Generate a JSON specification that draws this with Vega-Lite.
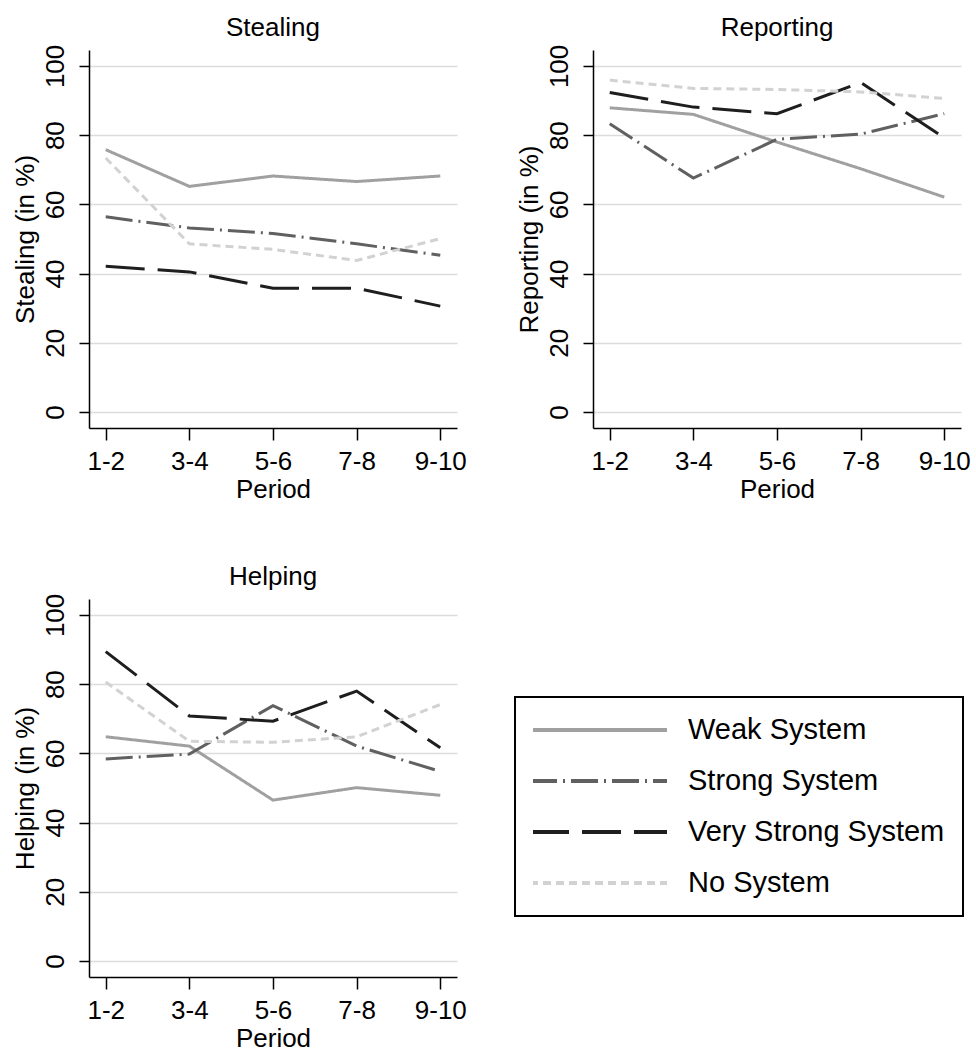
{
  "$schema": "https://vega.github.io/schema/vega-lite/v6.json",
  "background": "white",
  "padding": {"left": 12, "top": 15, "right": 0, "bottom": 0},
  "autosize": {"type": "pad"},
  "config": {
    "font": "Liberation Sans",
    "view": {"stroke": null},
    "title": {"fontSize": 26, "fontWeight": "normal", "color": "black", "anchor": "middle", "offset": 3},
    "axis": {
      "domainColor": "black", "domainWidth": 1.5,
      "tickColor": "black", "tickWidth": 1.5,
      "labelColor": "black", "titleColor": "black",
      "labelFontSize": 26, "titleFontSize": 26,
      "labelFontWeight": "normal", "titleFontWeight": "normal",
      "gridColor": "#dcdcdc", "gridWidth": 1.5
    },
    "axisX": {"grid": false, "labelAngle": 0, "tickSize": 12, "labelPadding": 8, "titlePadding": 2, "labelFontSize": 26},
    "axisY": {"grid": true, "tickSize": 10, "labelAngle": -90, "labelAlign": "center", "labelBaseline": "bottom", "labelPadding": 11, "titlePadding": 4}
  },
  "data": {"values": [
    {"measure": "Stealing", "system": "Weak System", "period": "1-2", "value": 75.8},
    {"measure": "Stealing", "system": "Weak System", "period": "3-4", "value": 65.2},
    {"measure": "Stealing", "system": "Weak System", "period": "5-6", "value": 68.2},
    {"measure": "Stealing", "system": "Weak System", "period": "7-8", "value": 66.6},
    {"measure": "Stealing", "system": "Weak System", "period": "9-10", "value": 68.2},
    {"measure": "Stealing", "system": "Strong System", "period": "1-2", "value": 56.4},
    {"measure": "Stealing", "system": "Strong System", "period": "3-4", "value": 53.2},
    {"measure": "Stealing", "system": "Strong System", "period": "5-6", "value": 51.6},
    {"measure": "Stealing", "system": "Strong System", "period": "7-8", "value": 48.6},
    {"measure": "Stealing", "system": "Strong System", "period": "9-10", "value": 45.3},
    {"measure": "Stealing", "system": "Very Strong System", "period": "1-2", "value": 42.1},
    {"measure": "Stealing", "system": "Very Strong System", "period": "3-4", "value": 40.5},
    {"measure": "Stealing", "system": "Very Strong System", "period": "5-6", "value": 35.8},
    {"measure": "Stealing", "system": "Very Strong System", "period": "7-8", "value": 35.8},
    {"measure": "Stealing", "system": "Very Strong System", "period": "9-10", "value": 30.6},
    {"measure": "Stealing", "system": "No System", "period": "1-2", "value": 73.4},
    {"measure": "Stealing", "system": "No System", "period": "3-4", "value": 48.6},
    {"measure": "Stealing", "system": "No System", "period": "5-6", "value": 47.0},
    {"measure": "Stealing", "system": "No System", "period": "7-8", "value": 43.8},
    {"measure": "Stealing", "system": "No System", "period": "9-10", "value": 50.1},
    {"measure": "Reporting", "system": "Weak System", "period": "1-2", "value": 87.9},
    {"measure": "Reporting", "system": "Weak System", "period": "3-4", "value": 86.0},
    {"measure": "Reporting", "system": "Weak System", "period": "5-6", "value": 78.0},
    {"measure": "Reporting", "system": "Weak System", "period": "7-8", "value": 70.3},
    {"measure": "Reporting", "system": "Weak System", "period": "9-10", "value": 62.1},
    {"measure": "Reporting", "system": "Strong System", "period": "1-2", "value": 83.3},
    {"measure": "Reporting", "system": "Strong System", "period": "3-4", "value": 67.6},
    {"measure": "Reporting", "system": "Strong System", "period": "5-6", "value": 78.8},
    {"measure": "Reporting", "system": "Strong System", "period": "7-8", "value": 80.3},
    {"measure": "Reporting", "system": "Strong System", "period": "9-10", "value": 86.2},
    {"measure": "Reporting", "system": "Very Strong System", "period": "1-2", "value": 92.3},
    {"measure": "Reporting", "system": "Very Strong System", "period": "3-4", "value": 88.1},
    {"measure": "Reporting", "system": "Very Strong System", "period": "5-6", "value": 86.2},
    {"measure": "Reporting", "system": "Very Strong System", "period": "7-8", "value": 95.2},
    {"measure": "Reporting", "system": "Very Strong System", "period": "9-10", "value": 79.2},
    {"measure": "Reporting", "system": "No System", "period": "1-2", "value": 95.9},
    {"measure": "Reporting", "system": "No System", "period": "3-4", "value": 93.5},
    {"measure": "Reporting", "system": "No System", "period": "5-6", "value": 93.2},
    {"measure": "Reporting", "system": "No System", "period": "7-8", "value": 92.5},
    {"measure": "Reporting", "system": "No System", "period": "9-10", "value": 90.6},
    {"measure": "Helping", "system": "Weak System", "period": "1-2", "value": 64.8},
    {"measure": "Helping", "system": "Weak System", "period": "3-4", "value": 62.1},
    {"measure": "Helping", "system": "Weak System", "period": "5-6", "value": 46.5},
    {"measure": "Helping", "system": "Weak System", "period": "7-8", "value": 50.1},
    {"measure": "Helping", "system": "Weak System", "period": "9-10", "value": 47.9},
    {"measure": "Helping", "system": "Strong System", "period": "1-2", "value": 58.4},
    {"measure": "Helping", "system": "Strong System", "period": "3-4", "value": 59.8},
    {"measure": "Helping", "system": "Strong System", "period": "5-6", "value": 73.8},
    {"measure": "Helping", "system": "Strong System", "period": "7-8", "value": 62.1},
    {"measure": "Helping", "system": "Strong System", "period": "9-10", "value": 54.8},
    {"measure": "Helping", "system": "Very Strong System", "period": "1-2", "value": 89.4},
    {"measure": "Helping", "system": "Very Strong System", "period": "3-4", "value": 70.8},
    {"measure": "Helping", "system": "Very Strong System", "period": "5-6", "value": 69.3},
    {"measure": "Helping", "system": "Very Strong System", "period": "7-8", "value": 78.0},
    {"measure": "Helping", "system": "Very Strong System", "period": "9-10", "value": 61.6},
    {"measure": "Helping", "system": "No System", "period": "1-2", "value": 80.6},
    {"measure": "Helping", "system": "No System", "period": "3-4", "value": 63.5},
    {"measure": "Helping", "system": "No System", "period": "5-6", "value": 63.2},
    {"measure": "Helping", "system": "No System", "period": "7-8", "value": 64.8},
    {"measure": "Helping", "system": "No System", "period": "9-10", "value": 74.1}
  ]},
  "columns": 2,
  "bounds": "flush",
  "spacing": {"row": 171, "column": 136},
  "resolve": {"scale": {"color": "independent", "strokeDash": "independent"}},
  "concat": [
    {
      "title": "Stealing",
      "width": 368, "height": 378,
      "transform": [{"filter": "datum.measure === 'Stealing'"}],
      "mark": {"type": "line", "strokeWidth": 3},
      "encoding": {
        "x": {"field": "period", "type": "ordinal", "sort": ["1-2", "3-4", "5-6", "7-8", "9-10"], "scale": {"type": "point", "padding": 0.2}, "axis": {"title": "Period"}},
        "y": {"field": "value", "type": "quantitative", "scale": {"domain": [-4.6, 104.6], "nice": false, "zero": false}, "axis": {"values": [0, 20, 40, 60, 80, 100], "title": "Stealing (in %)"}},
        "color": {"field": "system", "type": "nominal", "scale": {"domain": ["Weak System", "Strong System", "Very Strong System", "No System"], "range": ["#a0a0a0", "#606060", "#1e1e1e", "#d2d2d2"]}, "legend": null},
        "strokeDash": {"field": "system", "type": "nominal", "scale": {"domain": ["Weak System", "Strong System", "Very Strong System", "No System"], "range": [[1, 0], [27, 6, 2, 6], [39, 13], [8, 5]]}, "legend": null}
      }
    },
    {
      "title": "Reporting",
      "width": 368, "height": 378,
      "transform": [{"filter": "datum.measure === 'Reporting'"}],
      "mark": {"type": "line", "strokeWidth": 3},
      "encoding": {
        "x": {"field": "period", "type": "ordinal", "sort": ["1-2", "3-4", "5-6", "7-8", "9-10"], "scale": {"type": "point", "padding": 0.2}, "axis": {"title": "Period"}},
        "y": {"field": "value", "type": "quantitative", "scale": {"domain": [-4.6, 104.6], "nice": false, "zero": false}, "axis": {"values": [0, 20, 40, 60, 80, 100], "title": "Reporting (in %)"}},
        "color": {"field": "system", "type": "nominal", "scale": {"domain": ["Weak System", "Strong System", "Very Strong System", "No System"], "range": ["#a0a0a0", "#606060", "#1e1e1e", "#d2d2d2"]}, "legend": null},
        "strokeDash": {"field": "system", "type": "nominal", "scale": {"domain": ["Weak System", "Strong System", "Very Strong System", "No System"], "range": [[1, 0], [27, 6, 2, 6], [39, 13], [8, 5]]}, "legend": null}
      }
    },
    {
      "title": "Helping",
      "width": 368, "height": 378,
      "transform": [{"filter": "datum.measure === 'Helping'"}],
      "mark": {"type": "line", "strokeWidth": 3},
      "encoding": {
        "x": {"field": "period", "type": "ordinal", "sort": ["1-2", "3-4", "5-6", "7-8", "9-10"], "scale": {"type": "point", "padding": 0.2}, "axis": {"title": "Period"}},
        "y": {"field": "value", "type": "quantitative", "scale": {"domain": [-4.6, 104.6], "nice": false, "zero": false}, "axis": {"values": [0, 20, 40, 60, 80, 100], "title": "Helping (in %)"}},
        "color": {"field": "system", "type": "nominal", "scale": {"domain": ["Weak System", "Strong System", "Very Strong System", "No System"], "range": ["#a0a0a0", "#606060", "#1e1e1e", "#d2d2d2"]},
          "legend": {"title": null, "orient": "none", "legendX": 426, "legendY": 98, "symbolType": "stroke", "symbolSize": 18769, "symbolStrokeWidth": 4, "symbolOffset": -5, "clipHeight": 30, "rowPadding": 21, "padding": 18, "labelOffset": 19, "labelFontSize": 29, "labelColor": "black", "labelLimit": 400, "strokeColor": "black", "fillColor": "white",
            "encode": {"legend": {"update": {"strokeWidth": {"value": 2}}}}}},
        "strokeDash": {"field": "system", "type": "nominal", "scale": {"domain": ["Weak System", "Strong System", "Very Strong System", "No System"], "range": [[1, 0], [27, 6, 2, 6], [39, 13], [8, 5]]},
          "legend": {"title": null, "orient": "none", "legendX": 426, "legendY": 98, "symbolType": "stroke", "symbolSize": 18769, "symbolStrokeWidth": 4, "symbolOffset": -5, "clipHeight": 30, "rowPadding": 21, "padding": 18, "labelOffset": 19, "labelFontSize": 29, "labelColor": "black", "labelLimit": 400, "strokeColor": "black", "fillColor": "white",
            "encode": {"legend": {"update": {"strokeWidth": {"value": 2}}}}}}
      }
    }
  ]
}
